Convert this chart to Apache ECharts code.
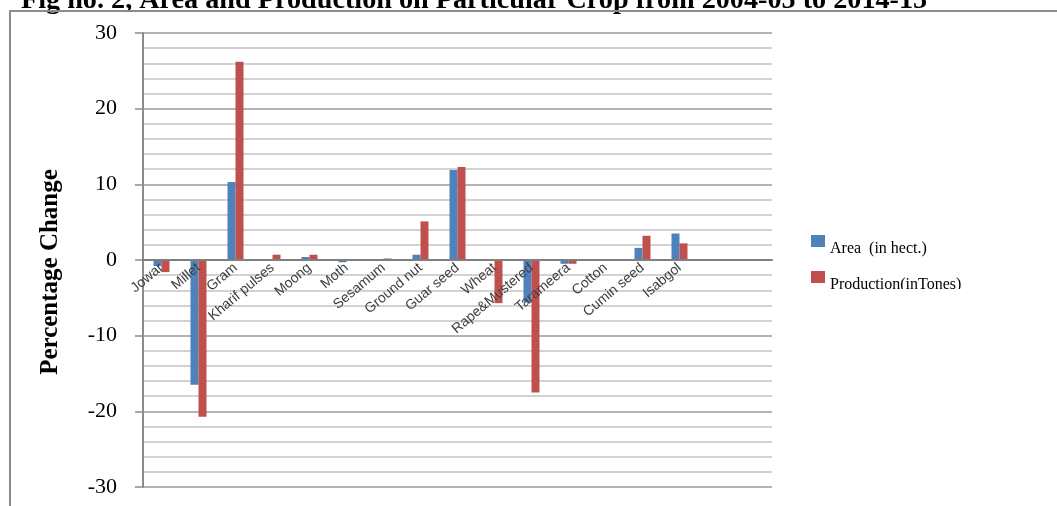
<!DOCTYPE html>
<html>
<head>
<meta charset="utf-8">
<script src="https://cdn.jsdelivr.net/npm/echarts@6/dist/echarts.min.js"></script>
<style>
  html, body { margin: 0; padding: 0; background: #fff; }
  #chart { width: 1057px; height: 506px; }
</style>
</head>
<body>
<div id="chart"></div>
<script>
// crops, percentage change 2004-05 to 2014-15 (two empty slots at the end, as in the sheet)
const crops = ['Jowar', 'Millet', 'Gram', 'Kharif pulses', 'Moong', 'Moth', 'Sesamum', 'Ground nut',
  'Guar seed', 'Wheat', 'Rape&Mustered', 'Tarameera', 'Cotton', 'Cumin seed', 'Isabgol', '', ''];
const areaChange = [-0.8, -16.5, 10.3, 0.1, 0.4, -0.3, 0, 0.7, 11.9, 0, -5.6, -0.5, 0, 1.6, 3.5, null, null];
const prodChange = [-1.6, -20.7, 26.2, 0.7, 0.7, 0, 0.2, 5.1, 12.3, -5.7, -17.5, -0.5, 0, 3.2, 2.2, null, null];
const yTicks = [-30, -20, -10, 0, 10, 20, 30];

const chart = echarts.init(document.getElementById('chart'));

// the category axis sits on y = 0, labels included
const plotTop = 33, plotBottom = 487;
const zeroOffset = -(plotBottom - plotTop) * (0 - yTicks[0]) / (yTicks[yTicks.length - 1] - yTicks[0]);

const option = {
  animation: false,
  title: {
    text: 'Fig no. 2, Area and Production on Particular Crop from 2004-05 to 2014-15',
    left: 16,
    top: -18,
    textStyle: { fontFamily: 'Liberation Serif', fontWeight: 'bold', fontSize: 28.2, color: '#000' }
  },
  graphic: [
    { type: 'polyline', z: 100, shape: { points: [[10, 520], [10, 11], [1060, 11]] },
      style: { stroke: '#8c8c8c', lineWidth: 2, fill: null } },
    // the sheet cuts off the bottom of the second legend entry
    { type: 'rect', z: 100, shape: { x: 828, y: 289, width: 160, height: 20 },
      style: { fill: '#fff' } }
  ],
  legend: {
    orient: 'vertical',
    left: 806,
    top: 220,
    itemWidth: 14,
    itemHeight: 12,
    itemGap: 4,
    icon: 'rect',
    // empty first line drops the text a little below its swatch
    formatter: name => '\n' + name,
    textStyle: { fontFamily: 'Liberation Serif', fontSize: 16, lineHeight: 16, color: '#000' },
    data: ['Area  (in hect.)', 'Production(inTones)']
  },
  grid: { left: 143, right: 285, top: plotTop, bottom: 506 - plotBottom, containLabel: false, outerBoundsMode: 'none' },
  xAxis: {
    type: 'category',
    data: crops,
    offset: zeroOffset,
    z: 5,
    axisLine: { onZero: false, lineStyle: { color: '#7f7f7f', width: 2 } },
    axisTick: { show: false },
    axisLabel: {
      rotate: 40,
      interval: 0,
      margin: 6,
      fontFamily: 'Liberation Sans',
      fontSize: 14,
      color: '#404040'
    },
    splitLine: { show: false }
  },
  yAxis: {
    type: 'value',
    min: yTicks[0],
    max: yTicks[yTicks.length - 1],
    interval: 10,
    name: 'Percentage Change',
    nameLocation: 'middle',
    nameGap: 80,
    nameTextStyle: { fontFamily: 'Liberation Serif', fontWeight: 'bold', fontSize: 25, color: '#000', padding: [0, 24, 0, 0] },
    axisLine: { show: true, lineStyle: { color: '#8c8c8c', width: 2 } },
    axisTick: { show: true, length: 8, lineStyle: { color: '#8c8c8c', width: 1.5 } },
    axisLabel: { margin: 26, fontFamily: 'Liberation Serif', fontSize: 22, color: '#000' },
    splitLine: { show: true, lineStyle: { color: '#9a9a9a', width: 1.5 } },
    minorTick: { show: false, splitNumber: 5 },
    minorSplitLine: { show: true, lineStyle: { color: '#c4c4c4', width: 1.5 } }
  },
  series: [
    {
      name: 'Area  (in hect.)',
      type: 'bar',
      data: areaChange,
      barWidth: 8,
      barGap: '0%',
      itemStyle: { color: '#4f81bd' }
    },
    {
      name: 'Production(inTones)',
      type: 'bar',
      data: prodChange,
      barWidth: 8,
      itemStyle: { color: '#c0504d' }
    }
  ]
};

chart.setOption(option);
</script>
</body>
</html>
